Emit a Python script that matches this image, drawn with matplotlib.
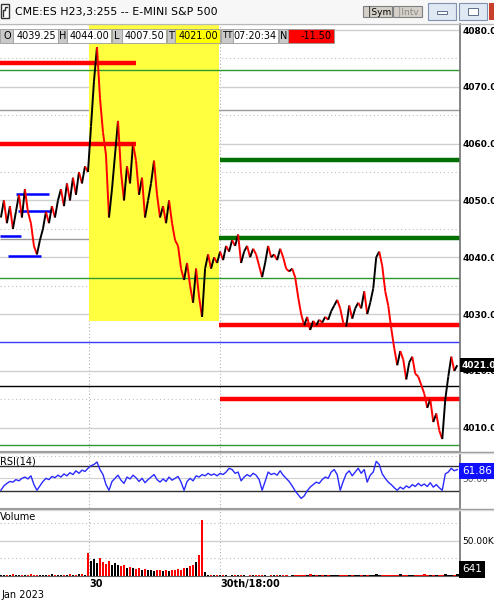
import numpy as np
import matplotlib
matplotlib.use('Agg')
import matplotlib.pyplot as plt
from matplotlib.collections import LineCollection
from matplotlib.patches import Rectangle

plt.rcParams['font.family'] = ['DejaVu Sans']

W, H = 494, 601

# one value per bar (closes)
close = [4047, 4050, 4046, 4049, 4045, 4048, 4051, 4047, 4052, 4048,
         4046, 4042, 4040.5, 4043, 4045, 4048, 4046, 4049, 4047, 4050,
         4052, 4049, 4053, 4050, 4054, 4051, 4055, 4053, 4056, 4055,
         4063, 4071, 4077, 4068, 4062, 4058, 4047, 4052, 4058, 4064,
         4055, 4050, 4056, 4053, 4060, 4057, 4051, 4054, 4047, 4050,
         4053, 4057, 4051, 4047, 4049, 4046, 4050, 4046, 4043, 4042,
         4038, 4036, 4039, 4035, 4032, 4038, 4033, 4029.5, 4038, 4040.5,
         4038, 4040, 4039, 4041, 4039.5, 4042, 4041, 4043, 4042, 4044,
         4039, 4041, 4042, 4040, 4041.5, 4040.5, 4038.5, 4036.5, 4039, 4042,
         4040, 4040.5, 4039.5, 4041.5, 4040, 4038, 4037.5, 4038, 4036.5, 4033,
         4030, 4028, 4029.5, 4027.2, 4028.8, 4028, 4029, 4028.5, 4029.5, 4029,
         4030.5, 4031.5, 4032.5, 4031, 4028.5, 4027.8, 4031.5, 4029.2, 4031, 4032,
         4031, 4034, 4030, 4032, 4034.5, 4040, 4041, 4038.5, 4034, 4031.5,
         4027.5, 4024, 4021, 4023.5, 4022, 4018.5, 4021.5, 4022.5, 4019.5, 4019,
         4017.5, 4016, 4013.5, 4015, 4011, 4012.5, 4009.5, 4008, 4015, 4019,
         4022.5, 4020, 4021]

rsi = [31, 38, 42, 45, 44, 48, 46, 50, 52, 49,
       54, 40, 31, 38, 45, 50, 48, 53, 51, 55,
       52, 57, 54, 59, 56, 62, 58, 63, 61, 66,
       70, 72, 76, 64, 56, 40, 31, 45, 50, 55,
       47, 42, 52, 49, 55, 51, 45, 50, 43, 48,
       52, 56, 48, 44, 49, 45, 52, 47, 50, 53,
       44, 31, 45, 50, 46, 54, 52, 56, 54, 58,
       55, 57, 54, 58, 56, 60, 66, 64, 58, 60,
       46, 52, 56, 53, 58, 55, 48, 31, 45, 60,
       56, 58, 55, 62, 55, 50, 45, 38, 30, 24,
       18, 22, 30, 36, 40, 44, 42, 48, 52, 50,
       60, 64, 56, 31, 45, 57, 62, 54, 60, 66,
       58, 64, 44, 55, 60, 77, 72, 57, 50, 44,
       40, 35, 31, 36, 33, 38, 35, 40, 37, 42,
       38, 41, 37, 43, 36, 40, 35, 31, 57, 60,
       66, 62, 64]

volume_k = [1.5, 2, 1, 1.5, 2.5, 1, 2, 1.5, 1, 2,
            3, 1.5, 2, 1, 1.5, 2, 1, 2.5, 1.5, 2,
            1, 1.5, 2, 3, 1.5, 2, 2.5, 3, 2,
            33,
            22, 24, 18, 25, 20, 17, 21, 15, 18, 16,
            14, 15, 12, 13, 11, 10, 12, 9, 10, 8,
            9, 7, 9, 8, 7, 8, 7, 9, 8, 10,
            9, 11, 12, 14, 16, 20,
            30, 80, 6,
            2, 1.5, 1, 2, 1, 1.5, 1, 0.5, 1, 1.5,
            1, 2, 1, 0.5, 1, 1.5, 1, 1, 2, 1,
            0.5, 1, 1.5, 1, 2, 1, 1, 0.5, 1, 1.5,
            2, 1, 1.5, 1, 2.5, 1, 1, 1.5, 1, 2,
            1, 1.5, 1, 2, 1.5, 1, 1, 2, 1.5, 1,
            2, 1.5, 1, 1, 2, 1.5, 2.5, 1, 1.5, 2,
            1, 1.5, 2, 1, 2.5, 1.5, 1, 2, 1.5, 1,
            2, 1.5, 2.5, 1, 2, 1.5, 1, 2, 1.5, 2.5,
            1, 2, 1.5, 3]

# horizontal levels drawn on the price pane
red_levels = [4074.2, 4059.9, 4028.1, 4015.0]
green_levels = [4057.1, 4043.4]
thin_green_levels = [4073.0, 4036.3, 4007.0]
blue_level = 4025.1
black_level = 4017.3
gray_levels = [4065.9, 4043.3]
blue_stubs = [4051.1, 4048.2, 4043.8, 4040.2]
box_low = 4028.7

time_ticks = [29.3, 73.0]
time_labels = ['30', '30th/18:00']

quote_names = ['O', 'H', 'L', 'T', 'TT', 'N']
quote_values = ['4039.25', '4044.00', '4007.50', '4021.00', '07:20:34', '-11.50']
title = 'CME:ES H23,3:255 -- E-MINI S&P 500'
last_price = 4021.0
last_rsi = 61.86
last_volume = 641


fig = plt.figure(figsize=(W / 100, H / 100), dpi=100, facecolor='white')


def px_axes(x0, y0, x1, y1):
    return fig.add_axes([x0 / W, 1 - y1 / H, (x1 - x0) / W, (y1 - y0) / H])


ax_p = px_axes(0, 24, 460, 451)
ax_r = px_axes(0, 453, 460, 508)
ax_v = px_axes(0, 510, 460, 576)

x = np.arange(len(close))
c = np.array(close, dtype=float)
up = np.r_[True, c[1:] >= c[:-1]]
bar_colors = ['black' if u else '#ff0000' for u in up]
xmax = 152.9

for ax in (ax_p, ax_r, ax_v):
    ax.set_xlim(-0.3, xmax)
    for s in ('left', 'top'):
        ax.spines[s].set_visible(False)
    ax.spines['right'].set_color('#707070')
    ax.spines['right'].set_linewidth(1.2)
    ax.spines['bottom'].set_color('#a0a0a0')
    ax.yaxis.tick_right()
    ax.tick_params(axis='y', length=0, pad=2, labelsize=6.5, labelcolor='black')
    ax.tick_params(axis='x', length=0)
    for t in time_ticks:
        ax.axvline(t, color='#b0b0b0', lw=0.8, ls=(0, (1, 2)), zorder=1)

# ---- price pane ----
ax_p.set_ylim(4005.9, 4081.06)
for lv in range(4010, 4081, 10):
    ax_p.axhline(lv, color='#cfcfcf', lw=1, zorder=1)
for lv in range(4005, 4081, 10):
    ax_p.axhline(lv, color='#c0c0c0', lw=0.8, ls=(0, (1, 2.5)), zorder=1)
ax_p.axhline(gray_levels[0], color='#9a9a9a', lw=1, zorder=1)
ax_p.hlines(gray_levels[1], -0.3, 72.6, color='#9a9a9a', lw=1, zorder=1)

ax_p.add_patch(Rectangle((29.3, box_low), 72.6 - 29.3, 4082 - box_low,
                         facecolor='#ffff40', edgecolor='none', zorder=1.5))

for lv in thin_green_levels:
    ax_p.axhline(lv, color='#2e9a2e', lw=1, zorder=2)
ax_p.axhline(blue_level, color='#3b3bff', lw=1, zorder=2)
ax_p.axhline(black_level, color='black', lw=1, zorder=2)

ax_p.hlines(red_levels[0], -0.3, 45, color='#ff0000', lw=3.2, zorder=2)
ax_p.hlines(red_levels[1], -0.3, 45, color='#ff0000', lw=3.2, zorder=2)
ax_p.hlines(red_levels[2], 72.5, xmax, color='#ff0000', lw=3.2, zorder=2)
ax_p.hlines(red_levels[3], 73, xmax, color='#ff0000', lw=3.2, zorder=2)
ax_p.hlines(green_levels[0], 73, xmax, color='#007000', lw=3.2, zorder=2)
ax_p.hlines(green_levels[1], 72.5, xmax, color='#007000', lw=3.2, zorder=2)

stub_spans = [(5, 16), (5.7, 16.7), (-0.3, 6.7), (2.3, 13.3)]
for lv, (a, b) in zip(blue_stubs, stub_spans):
    ax_p.hlines(lv, a, b, color='#0000ff', lw=1.8, zorder=2)

pts = np.column_stack([x, c])
segs = np.stack([pts[:-1], pts[1:]], axis=1)
ax_p.add_collection(LineCollection(segs, colors=bar_colors[1:], linewidths=1.4, zorder=3))

ax_p.set_yticks(range(4010, 4081, 10))
ax_p.set_yticklabels([f'{v:.1f}' for v in range(4010, 4081, 10)], fontweight='bold')
ax_p.set_xticks([])
ax_p.text(1.004, last_price, f'{last_price:.1f}', transform=ax_p.get_yaxis_transform(),
          ha='left', va='center', fontsize=6.5, fontweight='bold', color='white', zorder=5,
          bbox=dict(boxstyle='square,pad=0.25', facecolor='black', edgecolor='none'),
          clip_on=False)

# ---- RSI pane ----
ax_r.set_ylim(2.8, 90.3)
ax_r.axhline(70, color='#303030', lw=1, zorder=2)
ax_r.axhline(30, color='#303030', lw=1, zorder=2)
ax_r.axhline(50, color='#d0d0d0', lw=0.8, zorder=1)
ax_r.axhline(85, color='#c0c0c0', lw=0.8, ls=(0, (1, 2.5)), zorder=1)
ax_r.plot(np.arange(len(rsi)), rsi, color='#2a2aff', lw=1, zorder=3)
ax_r.set_yticks([50])
ax_r.set_yticklabels(['50.00'], color='#555555')
ax_r.set_xticks([])
ax_r.text(0.0, 0.93, 'RSI(14)', transform=ax_r.transAxes, ha='left', va='top', fontsize=7)
ax_r.text(1.004, last_rsi, f'{last_rsi:.2f}', transform=ax_r.get_yaxis_transform(),
          ha='left', va='center', fontsize=7.5, color='white', zorder=5,
          bbox=dict(boxstyle='square,pad=0.3', facecolor='#1010ff', edgecolor='none'),
          clip_on=False)

# ---- volume pane ----
ax_v.set_ylim(0, 94)
ax_v.axhline(50, color='#d0d0d0', lw=1, zorder=1)
for lv in (25, 75):
    ax_v.axhline(lv, color='#c0c0c0', lw=0.8, ls=(0, (1, 2.5)), zorder=1)
ax_v.bar(np.arange(len(volume_k)), volume_k, width=0.9, color=bar_colors, zorder=3)
ax_v.set_yticks([50])
ax_v.set_yticklabels(['50.00K'])
ax_v.text(0.0, 0.97, 'Volume', transform=ax_v.transAxes, ha='left', va='top', fontsize=7)
ax_v.text(1.004, 0.1, f'{last_volume}', transform=ax_v.transAxes,
          ha='left', va='center', fontsize=7.5, color='white', zorder=5,
          bbox=dict(boxstyle='square,pad=0.3', facecolor='black', edgecolor='none'),
          clip_on=False)
ax_v.spines['bottom'].set_color('#606060')
ax_v.set_xticks(time_ticks)
ax_v.set_xticklabels(time_labels, fontsize=7, fontweight='bold')
for lbl in ax_v.get_xticklabels():
    lbl.set_ha('left')
ax_v.tick_params(axis='x', pad=2)
fig.text(1 / W, 1 - 595 / H, 'Jan 2023', ha='left', va='center', fontsize=7)

# ---- window chrome overlay ----
ov = fig.add_axes([0, 0, 1, 1], zorder=10)
ov.set_xlim(0, W)
ov.set_ylim(H, 0)
ov.axis('off')
ov.patch.set_visible(False)

ov.add_patch(Rectangle((0, 0), W, 23, facecolor='#f7f7f7', edgecolor='none'))
ov.plot([0, W], [23.5, 23.5], color='#b8b8b8', lw=1)
ov.add_patch(Rectangle((1, 4), 8, 14, facecolor='white', edgecolor='#333333', lw=1))
ov.plot([3, 3, 5, 5, 7], [16, 10, 10, 7, 7], color='#333333', lw=1)
ov.text(15, 12, title, ha='left', va='center', fontsize=7.9, color='black')

for (bx0, bx1, txt, col) in [(363, 392, 'Sym', 'black'), (393, 422, 'Intv', '#8a8a8a')]:
    ov.add_patch(Rectangle((bx0, 6), bx1 - bx0, 11, facecolor='#d4d0c8', edgecolor='#808080', lw=0.8))
    ov.text(bx0 + 4, 11.5, '\u2502' + txt, ha='left', va='center', fontsize=6.5, color=col)
for (bx0, bx1) in [(428, 456), (459, 487)]:
    ov.add_patch(Rectangle((bx0, 3), bx1 - bx0, 17, facecolor='#dfe8f3', edgecolor='#7f93b0', lw=0.8))
ov.add_patch(Rectangle((437, 11), 10, 3, facecolor='white', edgecolor='#5b6e8b', lw=0.7))
ov.add_patch(Rectangle((468, 8), 10, 7, facecolor='white', edgecolor='#5b6e8b', lw=0.7))
ov.add_patch(Rectangle((489, 3), 6, 17, facecolor='#c8402c', edgecolor='none'))

# quote strip
name_spans = [(0, 13), (58, 67), (112, 122), (167, 175), (221, 233), (279, 288)]
value_spans = [(13, 58), (67, 111), (122, 166), (175, 220), (233, 278), (288, 334)]
value_bg = ['white', 'white', 'white', '#ffff00', 'white', '#ff0000']
for nm, val, (n0, n1), (v0, v1), bg in zip(quote_names, quote_values, name_spans,
                                           value_spans, value_bg):
    ov.add_patch(Rectangle((n0, 29), n1 - n0, 14, facecolor='#c9c9c9', edgecolor='#9a9a9a', lw=0.6))
    ov.text((n0 + n1) / 2 + (1 if nm == 'O' else 0), 36, nm, ha='center', va='center',
            fontsize=6.3 if nm == 'TT' else 7)
    ov.add_patch(Rectangle((v0, 29), v1 - v0, 14, facecolor=bg, edgecolor='#9a9a9a', lw=0.6))
    ov.text(v1 - 2, 36, val, ha='right', va='center', fontsize=6.9)

# pane separators
for yy, colr in [(451.5, '#909090'), (453.2, '#d8d8d8'), (508.5, '#909090'), (510.2, '#d8d8d8')]:
    ov.plot([0, W], [yy, yy], color=colr, lw=1)

fig.savefig('out.png', dpi=100, facecolor='white')
